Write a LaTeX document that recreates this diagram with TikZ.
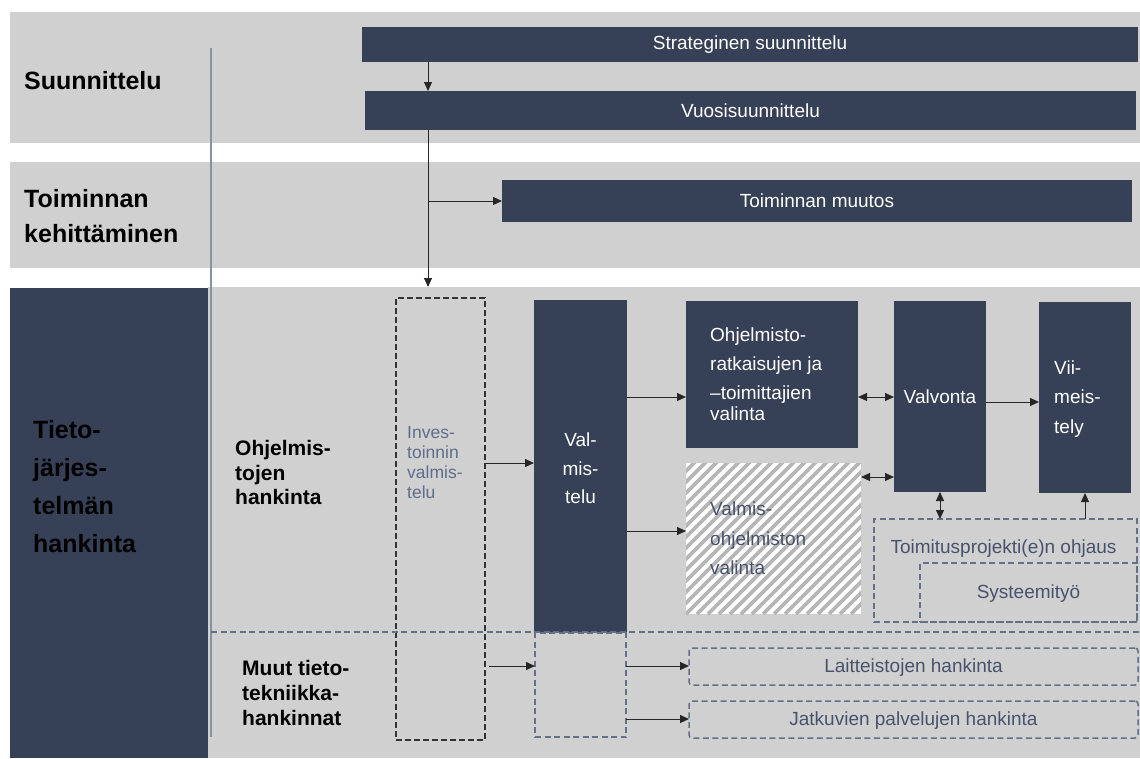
\documentclass[tikz,border=0pt]{standalone}
\usepackage{fontspec}
\setmainfont{Liberation Sans}
\usetikzlibrary{arrows.meta,calc}
\definecolor{navy}{RGB}{54,64,86}
\definecolor{bandgray}{RGB}{208,208,208}
\definecolor{lineblue}{RGB}{100,112,135}
\definecolor{textblue}{RGB}{72,82,108}
\definecolor{invblue}{RGB}{95,108,140}
\definecolor{sepblue}{RGB}{135,146,168}
\definecolor{stripe}{RGB}{182,182,182}
% line strut: every text line gets the same height and depth
\newcommand{\ls}{\rule[-0.14em]{0pt}{1em}}

\begin{document}
\begin{tikzpicture}[x=1pt,y=-1pt,
  band/.style={fill=bandgray, draw=none, inner sep=0, outer sep=0},
  dark/.style={fill=navy, draw=none, inner sep=0, outer sep=0, text=white,
               font=\fontsize{19}{22}\selectfont},
  dashbox/.style={draw=lineblue, line width=1.5pt, dash pattern=on 6pt off 3.5pt,
                  inner sep=0, outer sep=0, text=textblue, font=\fontsize{19}{22}\selectfont},
  invbox/.style={draw=black!80, line width=1.6pt, dash pattern=on 6pt off 3pt,
                 inner sep=0, outer sep=0},
  arr/.style={-{Triangle[length=9pt,width=8pt]}, line width=1pt, black!85},
  darr/.style={{Triangle[length=9pt,width=8pt]}-{Triangle[length=9pt,width=8pt]},
               line width=1pt, black!85},
  biglbl/.style={font=\bfseries\fontsize{25}{35}\selectfont, align=left, inner sep=0, anchor=west},
  midlbl/.style={font=\bfseries\fontsize{21}{24.5}\selectfont, align=left, inner sep=0, anchor=west},
  bodytxt/.style={font=\fontsize{19}{29}\selectfont, inner sep=0},
]
\useasboundingbox (0,0) rectangle (1140,758);

% ---------- lanes ----------
\node[band, minimum width=1130pt, minimum height=131pt] (band1) at (575,77.5) {};
\node[band, minimum width=1130pt, minimum height=106pt] (band2) at (575,215) {};
\node[band, minimum width=932pt, minimum height=471pt] (band3) at (674,522.5) {};
\node[fill=navy, inner sep=0, minimum width=198pt, minimum height=470pt] (tieto) at (109,523) {};

% separator between lane titles and content
\coordinate (sepA) at (211,48);
\coordinate (sepB) at (211,737);
\draw[sepblue, line width=1.5pt] (sepA) -- (sepB);

% ---------- planning boxes ----------
\node[dark, minimum width=776pt, minimum height=35pt] (strat) at (750,44.5) {Strateginen suunnittelu};
\node[dark, minimum width=771pt, minimum height=39pt] (vuosi) at (750.5,110.5) {Vuosisuunnittelu};
\node[dark, minimum width=630pt, minimum height=42pt] (muutos) at (817,201) {Toiminnan muutos};

% ---------- acquisition boxes ----------
\node[invbox, minimum width=89pt, minimum height=442pt] (inv) at (440.5,519) {};
\node[dark, minimum width=93pt, minimum height=333pt] (valm) at (580.5,466.5) {};
\node[dashbox, minimum width=91pt, minimum height=104pt] (valmlow) at (580.5,685) {};
\node[dark, minimum width=172pt, minimum height=147pt] (ohj) at (772,374.5) {};
\node[fill=white, inner sep=0, outer sep=0, minimum width=175pt, minimum height=151pt] (hatch) at (773.5,538.5) {};
\begin{scope}
  \clip (hatch.south west) rectangle (hatch.north east);
  \foreach \i in {-165,-154,...,185}
    \draw[stripe, line width=3.6pt] ($(hatch.south west)+(\i,0)$) -- ++(165,-165);
\end{scope}
\node[dark, minimum width=92pt, minimum height=191pt] (valv) at (940,396.5) {};
\node[dark, minimum width=92pt, minimum height=191pt] (viim) at (1085,397.5) {};
\node[dashbox, minimum width=263pt, minimum height=103pt] (toim) at (1005.5,570.5) {};
\node[dashbox, minimum width=217pt, minimum height=59pt] (syst) at (1028.5,592.5) {\ls Systeemityö};
\node[dashbox, rounded corners=3pt, minimum width=449pt, minimum height=37pt] (lait) at (913.5,666.5) {\ls Laitteistojen hankinta};
\node[dashbox, rounded corners=3pt, minimum width=449pt, minimum height=37pt] (jatk) at (913.5,719.5) {\ls Jatkuvien palvelujen hankinta};

% boundary between software and other acquisitions
\coordinate (divA) at (211,632);
\coordinate (divB) at (1140,632);
\draw[lineblue, line width=1.5pt, dash pattern=on 6pt off 3.5pt] (divA) -- (divB);

% ---------- connector levels ----------
\coordinate (xa) at (428,0);
\coordinate (xv) at (940,0);
\coordinate (xvi) at (1085,0);
\coordinate (yinv) at (0,463);
\coordinate (ylow1) at (0,666);
\coordinate (ylow2) at (0,719);
\coordinate (yohj) at (0,397);
\coordinate (yhat) at (0,531);
\coordinate (ydbl) at (0,477);
\coordinate (yvi) at (0,402);

\draw[arr] (strat.south -| xa) -- (vuosi.north -| xa);
\draw[arr] (vuosi.south -| xa) -- (band3.north -| xa);
\draw[arr] (xa |- muutos.west) -- (muutos.west);
\draw[arr] (inv.east |- yinv) -- (valm.west |- yinv);
\draw[arr] ($(inv.east |- ylow1)+(4,0)$) -- (valmlow.west |- ylow1);
\draw[arr] (valm.east |- yohj) -- (ohj.west |- yohj);
\draw[arr] (valm.east |- yhat) -- (hatch.west |- yhat);
\draw[darr] (ohj.east |- yohj) -- (valv.west |- yohj);
\draw[darr] (hatch.east |- ydbl) -- (valv.west |- ydbl);
\draw[arr] (valv.east |- yvi) -- (viim.west |- yvi);
\draw[darr] (valv.south -| xv) -- (toim.north -| xv);
\draw[arr] (toim.north -| xvi) -- (viim.south -| xvi);
\draw[arr] (valmlow.east |- ylow1) -- (lait.west |- ylow1);
\draw[arr] (valmlow.east |- ylow2) -- (jatk.west |- ylow2);

% ---------- lane titles ----------
\node[biglbl] (tSuun) at (24,80) {\ls Suunnittelu};
\node[biglbl] (tToim) at (24,215.5) {\ls Toiminnan\\\ls kehittäminen};
\node[biglbl, font=\bfseries\fontsize{25}{37.7}\selectfont] (tTieto) at (33,486.5)
  {\ls Tieto-\\\ls järjes-\\\ls telmän\\\ls hankinta};
\node[midlbl] (tOhj) at (235,472.5) {\ls Ohjelmis-\\\ls tojen\\\ls hankinta};
\node[midlbl, font=\bfseries\fontsize{21}{25}\selectfont] (tMuut) at (242,693)
  {\ls Muut tieto-\\\ls tekniikka-\\\ls hankinnat};

% ---------- box texts ----------
\node[bodytxt, font=\fontsize{17.5}{20}\selectfont, text=invblue, align=left, anchor=west] (txInv) at (407,462)
  {\ls Inves-\\\ls toinnin\\\ls valmis-\\\ls telu};
\node[bodytxt, font=\fontsize{19}{28.5}\selectfont, text=white, align=center] (txValm) at (580.5,468.5)
  {\ls Val-\\\ls mis-\\\ls telu};
\node[bodytxt, text=white, align=left, anchor=west] (txOhj) at (710,374.5)
  {\ls Ohjelmisto-\\\ls ratkaisujen ja\\\ls –toimittajien\\[-8pt]\ls valinta};
\node[bodytxt, text=white] (txValv) at (940,397) {\ls Valvonta};
\node[bodytxt, font=\fontsize{19}{29.5}\selectfont, text=white, align=left, anchor=west] (txViim) at (1054,397.5)
  {\ls Vii-\\\ls meis-\\\ls tely};
\node[bodytxt, font=\fontsize{19}{29.5}\selectfont, text=textblue, align=left, anchor=west] (txHatch) at (710,538.5)
  {\ls Valmis-\\\ls ohjelmiston\\\ls valinta};
\node[bodytxt, text=textblue] (txToim) at (1003.5,547) {\ls Toimitusprojekti(e)n ohjaus};
\end{tikzpicture}
\end{document}
